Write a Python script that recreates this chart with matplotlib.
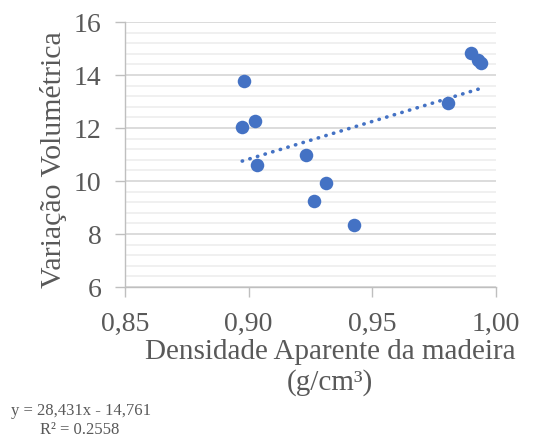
import numpy as np
import matplotlib.pyplot as plt
from matplotlib.ticker import MultipleLocator, FuncFormatter

# data
densidade = [0.898, 0.8974, 0.9026, 0.9035, 0.9232, 0.9312, 0.9263, 0.9425,
             0.9807, 0.9899, 0.9926, 0.9940]
variacao = [13.77, 12.04, 12.26, 10.60, 10.97, 9.94, 9.26, 8.34,
            12.96, 14.84, 14.57, 14.44]
coef_a = 28.431
coef_b = -14.761
r2 = 0.2558

plt.rcParams['font.family'] = ['Liberation Serif', 'DejaVu Serif']
gray = '#595959'

fig = plt.figure(figsize=(5.54, 4.38), dpi=100)
ax = fig.add_axes([0.2256, 0.3447, 0.6697, 0.605])

ax.set_xlim(0.85, 1.00)
ax.set_ylim(6, 16)
ax.yaxis.set_major_locator(MultipleLocator(2))
ax.yaxis.set_minor_locator(MultipleLocator(0.4))
ax.xaxis.set_major_locator(MultipleLocator(0.05))
ax.xaxis.set_major_formatter(FuncFormatter(lambda v, p: f'{v:.2f}'.replace('.', ',')))

ax.grid(True, which='major', axis='y', color='#d9d9d9', lw=1.3)
ax.grid(True, which='minor', axis='y', color='#ececec', lw=1.1)
ax.set_axisbelow(True)

for s in ['top', 'right']:
    ax.spines[s].set_visible(False)
for s in ['left', 'bottom']:
    ax.spines[s].set_color('#bfbfbf')
    ax.spines[s].set_linewidth(1.0)

ax.tick_params(axis='both', which='major', colors='#bfbfbf', labelcolor=gray,
               labelsize=20, length=7, width=1.0)
ax.tick_params(axis='y', which='minor', length=0)
ax.tick_params(axis='y', pad=10)
ax.tick_params(axis='x', pad=11)

# trendline
xt = np.array([min(densidade), max(densidade)])
ax.plot(xt, coef_a * xt + coef_b, ls=(0, (0.1, 2.1)), color='#4472C4', lw=2.6,
        dash_capstyle='round', zorder=2)

ax.scatter(densidade, variacao, s=95, color='#4472C4', zorder=3, linewidths=0)

ax.set_ylabel('Variação Volumétrica', fontsize=21.5, color=gray)
ax.yaxis.set_label_coords(-0.155, 0.48)
ax.set_xlabel('Densidade Aparente da madeira\n(g/cm³)', fontsize=21, color=gray,
              linespacing=1.2)
ax.xaxis.set_label_coords(0.553, -0.195)
ax.xaxis.label.set_va('top')

fig.text(0.02, 0.043, f'y = {coef_a:.3f}x - {abs(coef_b):.3f}'.replace('.', ','),
         fontsize=12, color=gray, ha='left', va='bottom')
fig.text(0.143, 0.0, f'R² = {r2:.4f}', fontsize=12, color=gray,
         ha='center', va='bottom')

fig.savefig('out.png', dpi=100)
